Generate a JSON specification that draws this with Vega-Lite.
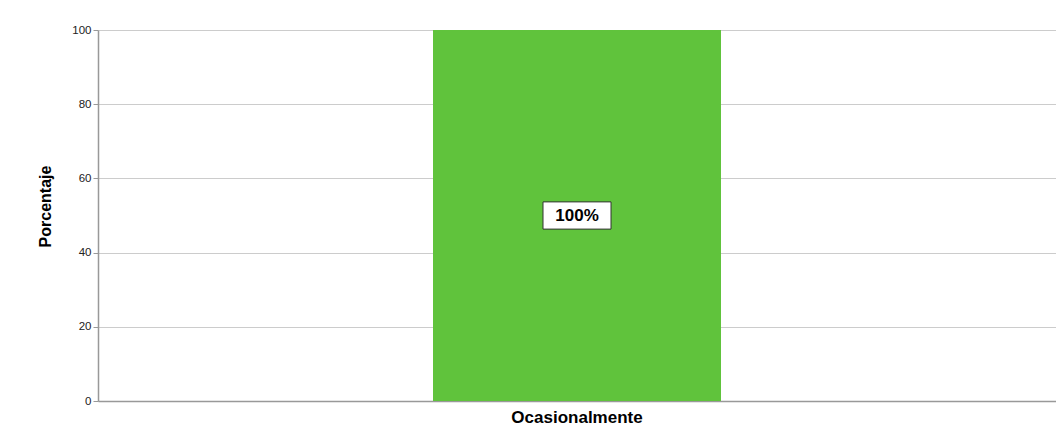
{
  "$schema": "https://vega.github.io/schema/vega-lite/v6.json",
  "autosize": "none",
  "padding": {"left": 98, "top": 30, "right": 0, "bottom": 27},
  "width": 958,
  "height": 371,
  "background": "white",
  "config": {"view": {"stroke": null}, "font": "Liberation Sans"},
  "data": {"values": [{"categoria": "Ocasionalmente", "porcentaje": 100, "etiqueta": "100%", "pos": 50}]},
  "encoding": {
    "x": {
      "field": "categoria",
      "type": "nominal",
      "title": null,
      "scale": {"paddingInner": 0, "paddingOuter": 0},
      "axis": {
        "labelAngle": 0,
        "labelFont": "Liberation Sans",
        "labelFontSize": 17,
        "labelFontWeight": "bold",
        "labelColor": "#000000",
        "labelPadding": 8,
        "ticks": false,
        "domainColor": "#999999",
        "domainWidth": 1.5
      }
    }
  },
  "layer": [
    {
      "mark": {"type": "bar", "width": 288, "color": "#60c33c"},
      "encoding": {
        "y": {
          "field": "porcentaje",
          "type": "quantitative",
          "title": "Porcentaje",
          "scale": {"domain": [0, 100], "nice": false},
          "axis": {
            "values": [0, 20, 40, 60, 80, 100],
            "labelFont": "Liberation Sans",
            "labelFontSize": 11.5,
            "labelColor": "#222222",
            "labelPadding": 2,
            "tickSize": 5,
            "tickColor": "#999999",
            "domainColor": "#999999",
            "domainWidth": 1.5,
            "gridColor": "#cccccc",
            "titleFont": "Liberation Sans",
            "titleFontSize": 16,
            "titleFontWeight": "bold",
            "titleColor": "#000000",
            "titlePadding": 18,
            "titleY": 176
          }
        }
      }
    },
    {
      "mark": {"type": "point", "shape": "M-1,-0.4L1,-0.4L1,0.4L-1,0.4Z", "size": 4624, "filled": true, "fill": "white", "stroke": "#333333", "strokeWidth": 1, "opacity": 1},
      "encoding": {"y": {"field": "pos", "type": "quantitative"}}
    },
    {
      "mark": {"type": "text", "font": "Liberation Sans", "fontSize": 17, "fontWeight": "bold", "color": "#000000", "baseline": "middle", "align": "center"},
      "encoding": {"y": {"field": "pos", "type": "quantitative"}, "text": {"field": "etiqueta"}}
    }
  ]
}
